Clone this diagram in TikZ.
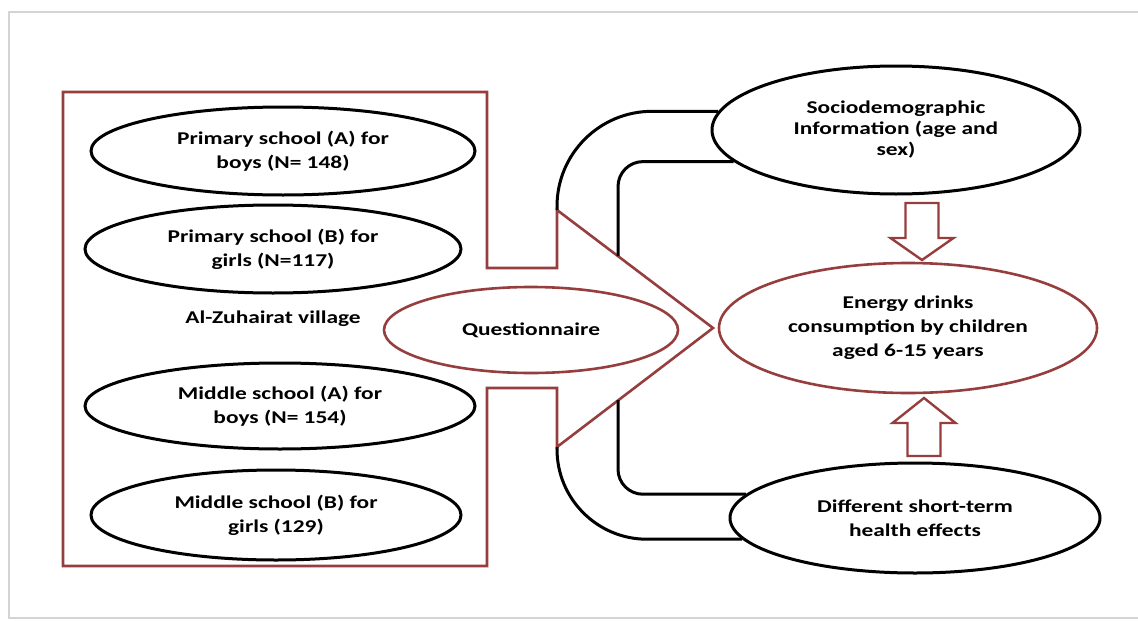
\documentclass[tikz,border=0pt]{standalone}
\usepackage{fontspec}
\setmainfont{Carlito}[FakeStretch=1.3]
\usetikzlibrary{shapes.geometric}
\definecolor{boxred}{RGB}{150,62,62}
\definecolor{framegray}{RGB}{212,212,212}

\begin{document}
\begin{tikzpicture}[x=1pt,y=-1pt,
    every node/.style={font=\fontsize{18}{24}\selectfont\bfseries,align=center,inner sep=0pt},
    blackoval/.style={ellipse,draw=black,line width=3pt},
    redoval/.style={ellipse,draw=boxred,line width=2.6pt},
    link/.style={draw=black,line width=3pt},
    blockarrow/.style={draw=boxred,line width=2.4pt,line join=miter}]
    % Define dimensions
    \def\boxleft{63}
    \def\boxright{487}
    \def\boxtop{92}
    \def\boxbottom{566}
    \def\shaftx{557}
    \def\tipx{713}
    \def\shaftw{33}
    \def\headw{63}
    \useasboundingbox (0,0) rectangle (1138,621);
    % Draw page frame
    \draw[framegray,line width=1.6pt] (1138,12) -- (9,12) -- (9,618) -- (1138,618);
    % Draw school ovals on the left
    \node[blackoval,minimum width=384,minimum height=88] (primA) at (283,151) {Primary school (A) for\\boys (N= 148)};
    \node[blackoval,minimum width=376,minimum height=88] (primB) at (273,249) {Primary school (B) for\\girls (N=117)};
    \node (village) at (273,319) {Al-Zuhairat village};
    \node[blackoval,minimum width=390,minimum height=86] (midA) at (280,406) {Middle school (A) for\\boys (N= 154)};
    \node[blackoval,minimum width=370,minimum height=90] (midB) at (276,515) {Middle school (B) for\\girls (129)};
    % Draw box with arrow head
    \coordinate (tiptop) at (\shaftx,210);
    \coordinate (tip) at (\tipx,328);
    \coordinate (tipbottom) at (\shaftx,447);
    \draw[boxred,line width=2.6pt,line join=miter]
        (\boxleft,\boxtop) -- (\boxright,\boxtop) -- (\boxright,268) -- (\shaftx,268)
        -- (tiptop) -- (tip) -- (tipbottom) -- (\shaftx,388) -- (\boxright,388)
        -- (\boxright,\boxbottom) -- (\boxleft,\boxbottom) -- cycle;
    \node[redoval,minimum width=294,minimum height=86] (quest) at (531,330) {Questionnaire};
    % Draw ovals on the right
    \node[blackoval,minimum width=368,minimum height=128,font=\fontsize{18}{21}\selectfont\bfseries] (socio) at (896,130)
        {Sociodemographic\\Information (age and\\sex)};
    \node[redoval,minimum width=378,minimum height=130] (energy) at (908,328)
        {Energy drinks\\consumption by children\\aged 6-15 years};
    \node[blackoval,minimum width=370,minimum height=110] (diff) at (915,518)
        {Different short-term\\health effects};
    % Draw block arrows
    \coordinate (downarrow) at (922,203);
    \coordinate (uparrow) at (924,456);
    \draw[blockarrow] (downarrow) ++(-\shaftw/2,0) -- ++(\shaftw,0) -- ++(0,35)
        -- ++({(\headw-\shaftw)/2},0) -- ++(-\headw/2,22) -- ++(-\headw/2,-22)
        -- ++({(\headw-\shaftw)/2},0) -- cycle;
    \draw[blockarrow] (uparrow) ++(-\shaftw/2,0) -- ++(\shaftw,0) -- ++(0,-33)
        -- ++({(\headw-\shaftw)/2},0) -- ++(-\headw/2,-25) -- ++(-\headw/2,25)
        -- ++({(\headw-\shaftw)/2},0) -- cycle;
    % Draw bent connectors
    \coordinate (innertop) at (618,256);
    \coordinate (innerbottom) at (618,400);
    \draw[link,rounded corners=95] (tiptop) |- (socio.174);
    \draw[link,rounded corners=25] (innertop) |- (socio.191);
    \draw[link,rounded corners=25] (innerbottom) |- (diff.172);
    \draw[link,rounded corners=90] (tipbottom) |- (diff.187);
\end{tikzpicture}
\end{document}
